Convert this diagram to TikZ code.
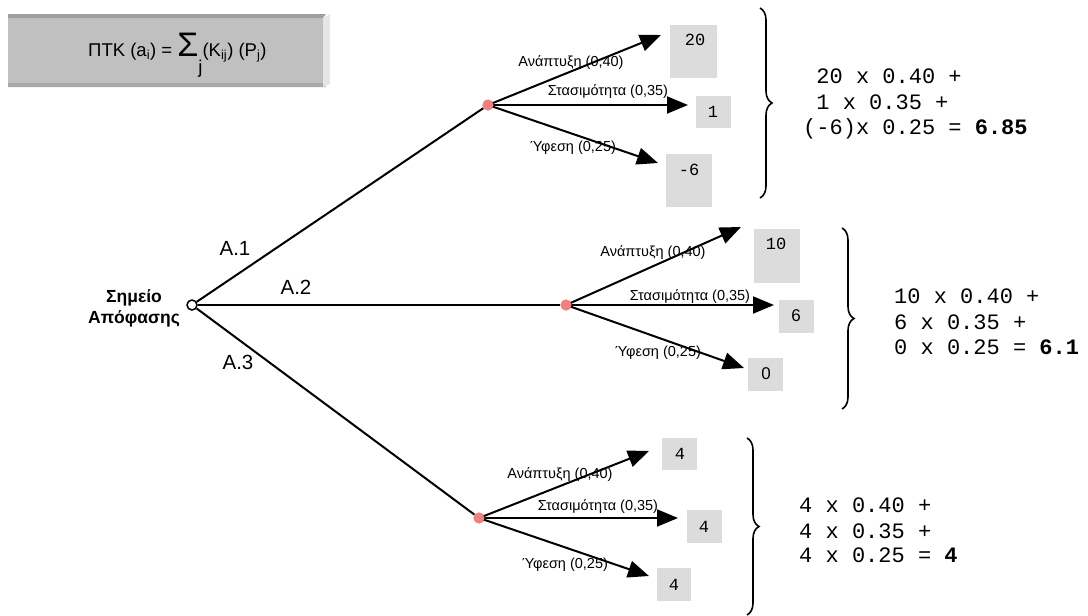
\documentclass[tikz,border=0pt]{standalone}
\usepackage{fontspec}
\setmainfont{Liberation Sans}
\newfontfamily\monof{Liberation Mono}
\usetikzlibrary{arrows.meta,decorations.pathreplacing}
\definecolor{numgray}{HTML}{DCDCDC}
\definecolor{fgray}{HTML}{C0C0C0}
\definecolor{ftop}{HTML}{A0A0A0}
\definecolor{fbot}{HTML}{A8A8A8}
\definecolor{fright}{HTML}{E6E6E6}
\definecolor{dotred}{HTML}{F47F7F}
\tikzset{
  chance/.style={circle,fill=dotred,draw=none,minimum size=11pt,inner sep=0pt},
  decision/.style={circle,fill=white,draw=black,line width=1.5pt,minimum size=10pt,inner sep=0pt},
  branch/.style={line width=2pt,-{Triangle[length=21pt,width=17pt]}},
  alt/.style={line width=2pt},
  blabel/.style={font=\fontsize{14.5}{16}\selectfont,inner sep=0pt},
  altlabel/.style={font=\fontsize{20.5}{22}\selectfont,inner sep=0pt},
  numbox/.style={fill=numgray,draw=none,anchor=north west,inner sep=0pt},
  numtxt/.style={font=\monof\fontsize{17}{18}\selectfont,inner sep=0pt},
  numsans/.style={font=\fontsize{17}{18}\selectfont,inner sep=0pt},
  calc/.style={font=\monof\fontsize{22}{24}\selectfont,anchor=base west,inner sep=0pt},
  bracey/.style={decorate,decoration={brace,amplitude=12pt},line width=1.6pt}
}
\begin{document}
\begin{tikzpicture}[x=1pt,y=-1pt]
\useasboundingbox (0,0) rectangle (1088,616);
% formula box
\fill[fgray] (8,17) rectangle (323,84);
\fill[ftop] (8,14) -- (326,14) -- (323,18) -- (8,18) -- cycle;
\fill[fbot] (8,83) -- (323,83) -- (326,87) -- (8,87) -- cycle;
\fill[fright] (323,18) -- (330,14) -- (330,84) -- (323,87) -- cycle;
\node[anchor=base west,inner sep=0pt,font=\fontsize{18.5}{20}\selectfont] (formula) at (88,56)
  {ΠΤΚ (a\textsubscript{i}) = {\fontsize{34}{34}\selectfont Σ}\raisebox{-17pt}{j}(K\textsubscript{ij}) (P\textsubscript{j})};

% decision node
\node[decision] (d) at (192,305) {};
\node[align=center,font=\bfseries\fontsize{17.5}{21}\selectfont,inner sep=0pt] (dlabel) at (134,308) {Σημείο\\Απόφασης};

% chance nodes
\node[chance] (c1) at (488,105) {};
\node[chance] (c2) at (566,305) {};
\node[chance] (c3) at (479,518) {};

% alternatives
\draw[alt] (d) -- (c1);
\draw[alt,line width=2.3pt] (d) -- (c2);
\draw[alt] (d) -- (c3);
\node[altlabel] (a1) at (235,248) {A.1};
\node[altlabel] (a2) at (296,287) {A.2};
\node[altlabel] (a3) at (238,362) {A.3};

% tips
\coordinate (t11) at (661,35);
\coordinate (t12) at (688,105);
\coordinate (t13) at (658,163);
\coordinate (t21) at (741,227);
\coordinate (t22) at (774,305);
\coordinate (t23) at (744,368);
\coordinate (t31) at (649,451);
\coordinate (t32) at (678,518);
\coordinate (t33) at (649,576);

\draw[branch] (c1.center) -- (t11);
\draw[branch] (c1.center) -- (t12);
\draw[branch] (c1.center) -- (t13);
\draw[branch] (c2.center) -- (t21);
\draw[branch] (c2.center) -- (t22);
\draw[branch] (c2.center) -- (t23);
\draw[branch] (c3.center) -- (t31);
\draw[branch] (c3.center) -- (t32);
\draw[branch] (c3.center) -- (t33);

% redraw dots on top
\node[chance] (c1top) at (c1) {};
\node[chance] (c2top) at (c2) {};
\node[chance] (c3top) at (c3) {};

% branch labels
\node[blabel] (l11) at (571,63) {Ανάπτυξη (0,40)};
\node[blabel] (l12) at (608,92) {Στασιμότητα (0,35)};
\node[blabel] (l13) at (573,148) {Ύφεση (0,25)};
\node[blabel] (l21) at (653,253) {Ανάπτυξη (0,40)};
\node[blabel] (l22) at (690,297) {Στασιμότητα (0,35)};
\node[blabel] (l23) at (658,353) {Ύφεση (0,25)};
\node[blabel] (l31) at (560,475) {Ανάπτυξη (0,40)};
\node[blabel] (l32) at (598,507) {Στασιμότητα (0,35)};
\node[blabel] (l33) at (565,565) {Ύφεση (0,25)};

% outcome boxes
\node[numbox,minimum width=47pt,minimum height=53pt] (b11) at (670,25) {};
\node[numbox,minimum width=35pt,minimum height=32pt] (b12) at (696,96) {};
\node[numbox,minimum width=46pt,minimum height=53pt] (b13) at (666,154) {};
\node[numbox,minimum width=46pt,minimum height=54pt] (b21) at (754,229) {};
\node[numbox,minimum width=35pt,minimum height=33pt] (b22) at (779,300) {};
\node[numbox,minimum width=35pt,minimum height=33pt] (b23) at (748,358) {};
\node[numbox,minimum width=35pt,minimum height=32pt] (b31) at (662,438) {};
\node[numbox,minimum width=35pt,minimum height=33pt] (b32) at (687,510) {};
\node[numbox,minimum width=34pt,minimum height=33pt] (b33) at (657,568) {};

\node[numtxt] (n11) at (695,40) {20};
\node[numtxt] (n12) at (713,112) {1};
\node[numtxt] (n13) at (689,170) {-6};
\node[numtxt] (n21) at (776,244) {10};
\node[numsans] (n22) at (796,316) {6};
\node[numsans] (n23) at (766,374) {0};
\node[numtxt] (n31) at (680,454) {4};
\node[numtxt] (n32) at (704,527) {4};
\node[numtxt] (n33) at (674,585) {4};

% braces
\coordinate (br1t) at (760,8);
\coordinate (br1b) at (760,198);
\coordinate (br2t) at (842,228);
\coordinate (br2b) at (842,409);
\coordinate (br3t) at (747,438);
\coordinate (br3b) at (747,615);
\draw[bracey] (br1t) -- (br1b);
\draw[bracey] (br2t) -- (br2b);
\draw[bracey] (br3t) -- (br3b);

% calculations
\node[calc] (e11) at (803,83.5) {\hphantom{(}20 x 0.40 +};
\node[calc] (e12) at (803,109.5) {\hphantom{(}1 x 0.35 +};
\node[calc] (e13) at (803,134.5) {(-6)x 0.25 = \textbf{6.85}};
\node[calc] (e21) at (894,303.5) {10 x 0.40 +};
\node[calc] (e22) at (894,329.5) {6 x 0.35 +};
\node[calc] (e23) at (894,354.5) {0 x 0.25 = \textbf{6.1}};
\node[calc] (e31) at (799,512.5) {4 x 0.40 +};
\node[calc] (e32) at (799,538.5) {4 x 0.35 +};
\node[calc] (e33) at (799,562.5) {4 x 0.25 = \textbf{4}};
\end{tikzpicture}
\end{document}
